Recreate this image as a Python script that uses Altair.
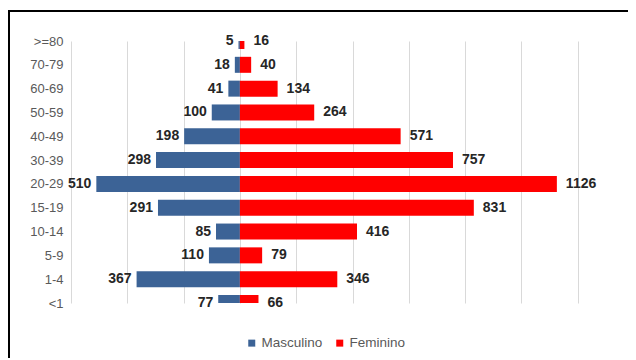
import altair as alt
import pandas as pd

# Data (bottom to top)
age_groups = ["<1", "1-4", "5-9", "10-14", "15-19", "20-29", "30-39",
              "40-49", "50-59", "60-69", "70-79", ">=80"]
masculino = [77, 367, 110, 85, 291, 510, 298, 198, 100, 41, 18, 5]
feminino = [66, 346, 79, 416, 831, 1126, 757, 571, 264, 134, 40, 16]
series = ["Masculino", "Feminino"]
colors = ["#3C6396", "#FF0000"]
x_ticks = list(range(-600, 1401, 200))

rows = []
for i, g in enumerate(age_groups):
    rows.append({"idx": i, "grupo": g, "sexo": "Masculino", "valor": masculino[i], "signed": -masculino[i]})
    rows.append({"idx": i, "grupo": g, "sexo": "Feminino", "valor": feminino[i], "signed": feminino[i]})
df = pd.DataFrame(rows)

FONT = "Liberation Sans"
label_expr = "[" + ",".join("'" + g + "'" for g in age_groups) + "][datum.value]"

W, H = 563, 262

x_enc = alt.X("signed:Q",
              scale=alt.Scale(domain=[-600, 1400], nice=False, zero=False, padding=0),
              axis=alt.Axis(values=x_ticks, grid=True, labels=False, ticks=False,
                            domain=False, gridColor="#D9D9D9", gridWidth=1, title=None))
y_enc = alt.Y("idx:Q",
              scale=alt.Scale(domain=[0, len(age_groups) - 1], nice=False, zero=False, padding=0),
              axis=alt.Axis(values=list(range(len(age_groups))), labelExpr=label_expr,
                            grid=False, ticks=False, domain=False, title=None,
                            labelOverlap=False, labelBound=False, labelFlush=False,
                            labelPadding=8, labelFontSize=13, labelColor="#595959",
                            labelFont=FONT))

base = alt.Chart(df)

bars = base.mark_bar(orient="horizontal", size=16, clip=True).encode(
    x=x_enc,
    x2=alt.datum(0),
    y=y_enc,
    color=alt.Color("sexo:N",
                    scale=alt.Scale(domain=series, range=colors),
                    sort=series,
                    legend=alt.Legend(orient="none", legendX=174, legendY=295,
                                      direction="horizontal", title=None,
                                      symbolType="square", symbolSize=49,
                                      symbolStrokeWidth=0,
                                      labelFontSize=13.5, labelColor="#595959",
                                      labelFont=FONT, columnPadding=10,
                                      labelOffset=3)),
)

labels_m = base.transform_filter(alt.datum.sexo == "Masculino").mark_text(
    align="right", baseline="middle", dx=-5, fontSize=14, fontWeight="bold",
    font=FONT, color="#262626"
).encode(x=x_enc, y=y_enc, text="valor:Q")

labels_f = base.transform_filter(alt.datum.sexo == "Feminino").mark_text(
    align="left", baseline="middle", dx=9, fontSize=14, fontWeight="bold",
    font=FONT, color="#262626"
).encode(x=x_enc, y=y_enc, text="valor:Q")

# outer chart frame (left and top edges visible in the cropped reference)
frame_left = alt.Chart(alt.Data(values=[{}])).mark_rule(
    color="#000000", strokeWidth=2
).encode(x=alt.value(-62), y=alt.value(-31), y2=alt.value(H + 150))
frame_top = alt.Chart(alt.Data(values=[{}])).mark_rule(
    color="#000000", strokeWidth=2
).encode(x=alt.value(-63), x2=alt.value(W + 100), y=alt.value(-30))

chart = alt.layer(bars, labels_m, labels_f, frame_left, frame_top).properties(
    width=W, height=H,
    autosize=alt.AutoSizeParams(type="none"),
    padding={"left": 63, "top": 33, "right": -6, "bottom": 55},
    background="white",
).configure_view(stroke=None).configure_axis(labelOverlap=False)

chart.save("out.html", embed_options={"renderer": "svg", "actions": False})
